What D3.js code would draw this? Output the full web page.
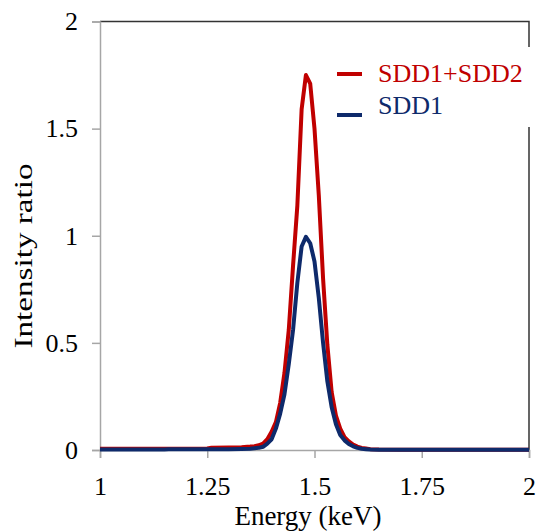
<!DOCTYPE html>
<html>
<head>
<meta charset="utf-8">
<script src="https://cdn.jsdelivr.net/npm/d3@7/dist/d3.min.js"></script>
<style>
  body { margin: 0; background: #fff; }
  text { font-family: "Liberation Serif", "Times New Roman", serif; }
</style>
</head>
<body>
<svg id="chart"></svg>
<script>
const width = 537;
const height = 531;

const energy = [1.00, 1.05, 1.10, 1.15, 1.16, 1.20, 1.25, 1.26, 1.30, 1.33, 1.35, 1.36, 1.37, 1.38, 1.39,
  1.40, 1.41, 1.42, 1.43, 1.44, 1.45, 1.46, 1.47, 1.48, 1.49, 1.50, 1.51, 1.52, 1.53, 1.54, 1.55,
  1.56, 1.57, 1.58, 1.59, 1.60, 1.61, 1.62, 1.63, 1.65, 1.70, 1.80, 1.90, 2.00];
const sddSum = [0.006, 0.006, 0.006, 0.006, 0.006, 0.006, 0.007, 0.011, 0.012, 0.013, 0.016, 0.018, 0.022, 0.03, 0.05,
  0.085, 0.13, 0.22, 0.36, 0.56, 0.86, 1.14, 1.59, 1.75, 1.71, 1.50, 1.19, 0.80, 0.49, 0.27, 0.16,
  0.10, 0.06, 0.04, 0.025, 0.016, 0.01, 0.007, 0.004, 0.002, 0.001, 0.001, 0.001, 0.001];
const sdd1 = [0.002, 0.002, 0.002, 0.002, 0.004, 0.004, 0.004, 0.004, 0.004, 0.005, 0.006, 0.008, 0.01, 0.015, 0.03,
  0.05, 0.10, 0.17, 0.26, 0.40, 0.56, 0.78, 0.95, 0.995, 0.965, 0.88, 0.71, 0.50, 0.32, 0.20, 0.12,
  0.07, 0.045, 0.028, 0.017, 0.01, 0.006, 0.004, 0.002, 0.001, 0.001, 0.001, 0.001, 0.001];

const xTicks = [1, 1.25, 1.5, 1.75, 2];
const yTicks = [0, 0.5, 1, 1.5, 2];

const seriesNames = ['SDD1+SDD2', 'SDD1'];
const seriesColors = ['#c00000', '#0e2a6b'];

const svg = d3.select('#chart')
  .attr('width', width)
  .attr('height', height);

const x = d3.scaleLinear().domain([1, 2]).range([100, 529]);
const y = d3.scaleLinear().domain([0, 2]).range([450, 21.5]);

// frame top/right
svg.append('path')
  .attr('d', `M${x(1)},${y(2)}H${x(2)}V${y(0)}`)
  .attr('fill', 'none')
  .attr('stroke', '#333')
  .attr('stroke-width', 1.5);

const xAxis = svg.append('g')
  .attr('transform', `translate(0, ${y(0)})`)
  .call(d3.axisBottom(x).tickValues(xTicks).tickSize(8).tickPadding(19).tickFormat(d3.format('')));

const yAxis = svg.append('g')
  .attr('transform', `translate(${x(1)}, 0)`)
  .call(d3.axisLeft(y).tickValues(yTicks).tickSize(8).tickPadding(14).tickFormat(d3.format('')));

[xAxis, yAxis].forEach(a => {
  a.select('.domain').attr('stroke', '#a6a6a6').attr('stroke-width', 1.5);
  a.selectAll('.tick line').attr('stroke', '#a6a6a6').attr('stroke-width', 1.5);
  a.selectAll('.tick text')
    .attr('fill', '#000')
    .style('font-family', '"Liberation Serif", serif')
    .style('font-size', '26px');
});
xAxis.selectAll('.tick text').attr('dy', '0.71em');

svg.append('text')
  .attr('x', 308)
  .attr('y', 525)
  .attr('text-anchor', 'middle')
  .style('font-size', '27px')
  .text('Energy (keV)');

svg.append('text')
  .attr('transform', 'translate(32, 256) rotate(-90)')
  .attr('text-anchor', 'middle')
  .attr('textLength', 185)
  .attr('lengthAdjust', 'spacingAndGlyphs')
  .style('font-size', '26px')
  .text('Intensity ratio');

const line = d3.line()
  .x((d, i) => x(energy[i]))
  .y(d => y(d));

[sddSum, sdd1].forEach((s, i) => {
  svg.append('path')
    .datum(s)
    .attr('d', line)
    .attr('fill', 'none')
    .attr('stroke', seriesColors[i])
    .attr('stroke-width', 4)
    .attr('stroke-linejoin', 'round');
});

// legend
const legend = svg.append('g');
legend.append('rect')
  .attr('x', 330).attr('y', 47)
  .attr('width', 207).attr('height', 80)
  .attr('fill', '#fff');

const legendY = [74, 115];
const textY = [82, 114];
seriesNames.forEach((n, i) => {
  legend.append('line')
    .attr('x1', 337).attr('x2', 362)
    .attr('y1', legendY[i]).attr('y2', legendY[i])
    .attr('stroke', seriesColors[i])
    .attr('stroke-width', 4);
  legend.append('text')
    .attr('x', 378).attr('y', textY[i])
    .attr('fill', seriesColors[i])
    .style('font-size', '26px')
    .text(n);
});
</script>
</body>
</html>
